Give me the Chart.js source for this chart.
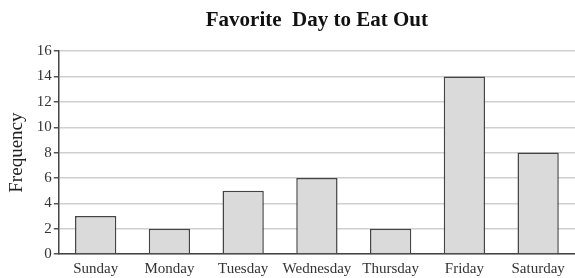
<!DOCTYPE html>
<html>
<head>
<meta charset="utf-8">
<script src="https://cdn.jsdelivr.net/npm/chart.js@4/dist/chart.umd.min.js"></script>
<style>
  html, body { margin: 0; padding: 0; background: #fff; }
  #wrap { width: 575px; height: 278px; }
</style>
</head>
<body>
<div id="wrap"><canvas id="myChart" width="575" height="278"></canvas></div>
<script>
const days = ['Sunday', 'Monday', 'Tuesday', 'Wednesday', 'Thursday', 'Friday', 'Saturday'];
const counts = [3, 2, 5, 6, 2, 14, 8];
const yTicks = [0, 2, 4, 6, 8, 10, 12, 14, 16];

const serif = '"Liberation Serif", "DejaVu Serif", serif';

new Chart(document.getElementById('myChart'), {
  type: 'bar',
  data: {
    labels: days,
    datasets: [{
      label: 'Frequency',
      data: counts,
      backgroundColor: '#dadada',
      borderColor: '#444',
      borderWidth: 1.5,
      categoryPercentage: 1,
      barPercentage: 0.56,
    }],
  },
  options: {
    responsive: false,
    animation: false,
    layout: { padding: { top: 2, right: 0, left: 6, bottom: -6 } },
    plugins: {
      legend: { display: false },
      tooltip: { enabled: false },
      title: {
        display: true,
        text: 'Favorite  Day to Eat Out',
        fullSize: false,
        color: '#111',
        font: { family: serif, size: 21, weight: 'bold' },
        padding: { top: 6, bottom: 18 },
      },
    },
    scales: {
      x: {
        grid: { display: false, drawTicks: false },
        border: { color: '#444', width: 1.5 },
        ticks: {
          color: '#333',
          font: { family: serif, size: 15 },
          padding: 6,
          maxRotation: 0,
          autoSkip: false,
        },
      },
      y: {
        min: 0,
        max: 16,
        afterBuildTicks: (axis) => { axis.ticks = yTicks.map(v => ({ value: v })); },
        grid: { color: '#cfcfcf', lineWidth: 1.5, tickLength: 5, tickColor: '#555' },
        border: { color: '#444', width: 1.5 },
        ticks: {
          color: '#333',
          font: { family: serif, size: 15 },
          padding: 2,
        },
        title: {
          display: true,
          text: 'Frequency',
          color: '#222',
          font: { family: serif, size: 19 },
          padding: { top: 0, bottom: 6 },
        },
      },
    },
  },
});
</script>
</body>
</html>
